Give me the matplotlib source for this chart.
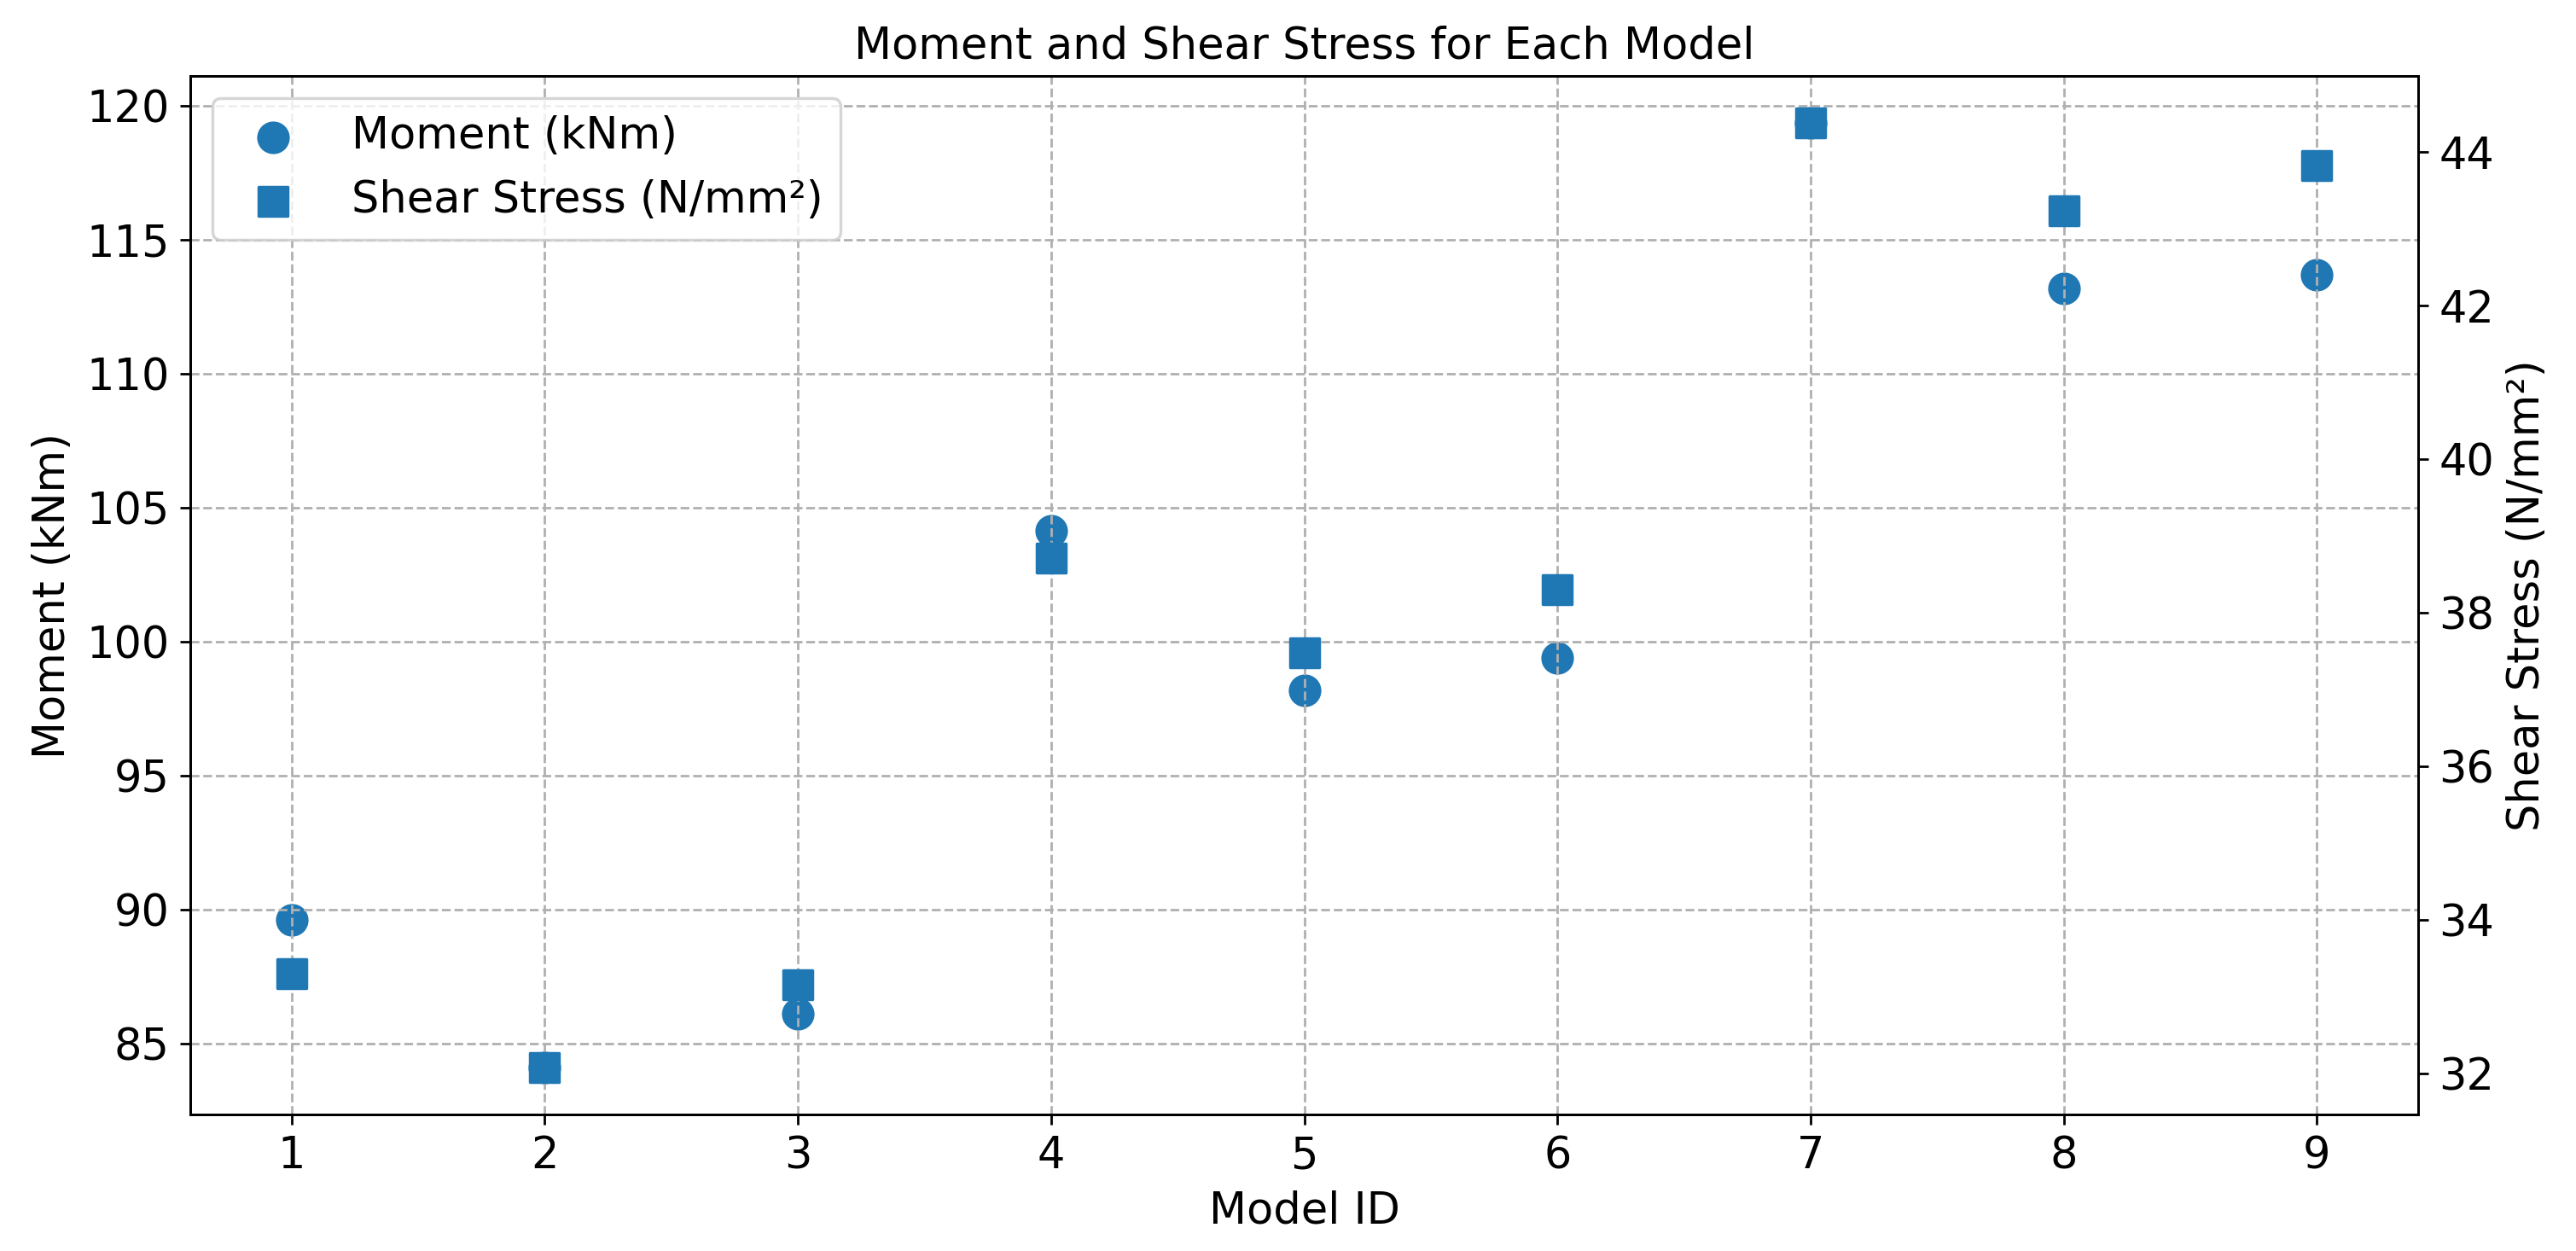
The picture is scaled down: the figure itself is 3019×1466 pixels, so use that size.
import matplotlib
matplotlib.use("Agg")
import matplotlib.pyplot as plt

model_ids = [1, 2, 3, 4, 5, 6, 7, 8, 9]
moment = [89.62, 84.13, 86.12, 104.14, 98.18, 99.41, 119.34, 113.18, 113.69]
shear = [33.30, 32.08, 33.16, 38.71, 37.48, 38.30, 44.38, 43.24, 43.83]

fs = 14.7
fig, ax1 = plt.subplots(figsize=(3019 / 250, 1466 / 250), dpi=250)
fig.subplots_adjust(left=0.0739, right=0.9387, top=0.9393, bottom=0.1091)

sc1 = ax1.scatter(model_ids, moment, marker='o', s=100, color='tab:blue', label='Moment (kNm)')
ax1.set_xlabel('Model ID', fontsize=fs)
ax1.set_ylabel('Moment (kNm)', fontsize=fs)
ax1.tick_params(labelsize=fs)
ax1.set_xticks(model_ids)
ax1.grid(True, linestyle='--')

ax2 = ax1.twinx()
sc2 = ax2.scatter(model_ids, shear, marker='s', s=100, color='tab:blue', label='Shear Stress (N/mm²)')
ax2.set_ylabel('Shear Stress (N/mm²)', fontsize=fs)
ax2.tick_params(labelsize=fs)

ax2.legend([sc1, sc2], [sc1.get_label(), sc2.get_label()], loc='upper left', fontsize=fs)
ax1.set_title('Moment and Shear Stress for Each Model', fontsize=fs)

fig.savefig('out.png', dpi=250)
